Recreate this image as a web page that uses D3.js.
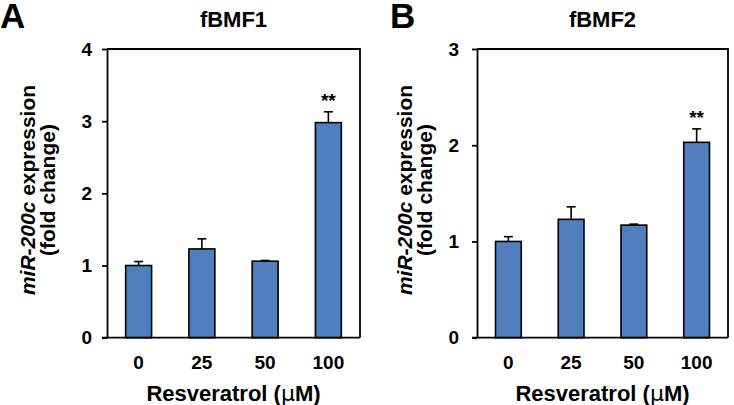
<!DOCTYPE html>
<html><head><meta charset="utf-8">
<script src="https://cdn.jsdelivr.net/npm/d3@7"></script>
<style>body{margin:0;background:#fff}svg{display:block}text{font-family:"Liberation Sans",Arial,sans-serif;font-weight:bold;fill:#000}</style>
</head><body>
<script>
const categories = ["0","25","50","100"];
const valuesA = [1.00, 1.23, 1.06, 2.98];
const errorsA = [0.055, 0.14, 0.01, 0.15];
const valuesB = [1.00, 1.23, 1.17, 2.03];
const errorsB = [0.05, 0.13, 0.01, 0.14];
const sigA = ["", "", "", "**"];
const sigB = ["", "", "", "**"];
const ticksA = [0,1,2,3,4];
const ticksB = [0,1,2,3];
const titles = ["fBMF1","fBMF2"];
const letters = ["A","B"];

const svg = d3.select("body").append("svg").attr("width",734).attr("height",405);
const color = "#4f7fbf";

function panel(cfg){
  const g = svg.append("g");
  const x = d3.scaleBand().domain(categories).range([cfg.x0,cfg.x1]).paddingInner(0.59).paddingOuter(0.295);
  const y = d3.scaleLinear().domain([0,cfg.ymax]).range([cfg.yb,cfg.yt]);
  g.append("path").attr("d",`M${cfg.x0},${cfg.yt}H${cfg.x1}V${cfg.yb}`).attr("fill","none").attr("stroke","#000").attr("stroke-width",1.8);
  g.selectAll("rect.bar").data(cfg.values).join("rect")
    .attr("x",(d,i)=>x(categories[i])).attr("width",x.bandwidth())
    .attr("y",d=>y(d)).attr("height",d=>cfg.yb-y(d))
    .attr("fill",color).attr("stroke","#000").attr("stroke-width",1.6);
  cfg.values.forEach((v,i)=>{
    const cx = x(categories[i])+x.bandwidth()/2;
    const top = y(v+cfg.errors[i]);
    g.append("line").attr("x1",cx).attr("x2",cx).attr("y1",y(v)).attr("y2",top).attr("stroke","#000").attr("stroke-width",1.6);
    g.append("line").attr("x1",cx-4.5).attr("x2",cx+4.5).attr("y1",top).attr("y2",top).attr("stroke","#000").attr("stroke-width",1.6);
    if(cfg.sig[i]) g.append("text").attr("x",cx).attr("y",top-5).attr("text-anchor","middle").style("font-size","19px").text(cfg.sig[i]);
  });
  const ya = g.append("g").attr("transform",`translate(${cfg.x0},0)`)
    .call(d3.axisLeft(y).tickValues(cfg.ticks).tickFormat(d3.format("d")).tickSize(5).tickPadding(cfg.tpad).tickSizeOuter(0));
  ya.select(".domain").attr("stroke-width",1.8);
  ya.selectAll(".tick line").attr("stroke-width",1.8);
  ya.selectAll("text").style("font-size","19px").style("font-family","Liberation Sans, Arial, sans-serif").style("font-weight","bold");
  g.append("line").attr("x1",cfg.x0-5).attr("x2",cfg.x1).attr("y1",cfg.yb).attr("y2",cfg.yb).attr("stroke","#000").attr("stroke-width",1.8);
  g.selectAll("text.xl").data(categories).join("text").attr("class","xl")
    .attr("x",d=>x(d)+x.bandwidth()/2).attr("y",369).attr("text-anchor","middle").style("font-size","19px").text(d=>d);
  const xt = g.append("text").attr("x",(cfg.x0+cfg.x1)/2).attr("y",401).attr("text-anchor","middle").style("font-size","22px");
  xt.append("tspan").text("Resveratrol (");
  xt.append("tspan").style("font-family","DejaVu Sans, sans-serif").style("font-weight","normal").text("μ");
  xt.append("tspan").text("M)");
  g.append("text").attr("x",(cfg.x0+cfg.x1)/2).attr("y",27).attr("text-anchor","middle").style("font-size","22px").text(cfg.title);
  g.append("text").attr("x",cfg.lx).attr("y",28).style("font-size","35px").text(cfg.letter);
  const cy = 190;
  const t1 = g.append("text").attr("transform",`translate(${cfg.yl1},${cy}) rotate(-90)`).attr("text-anchor","middle").style("font-size","21px");
  t1.append("tspan").style("font-style","italic").text("miR-200c");
  t1.append("tspan").text(" expression");
  g.append("text").attr("transform",`translate(${cfg.yl2},${cy}) rotate(-90)`).attr("text-anchor","middle").style("font-size","21px").text("(fold change)");
}

panel({x0:107,x1:360,yb:337.7,yt:49,ymax:4,values:valuesA,errors:errorsA,sig:sigA,ticks:ticksA,tpad:10,title:titles[0],letter:letters[0],lx:0,yl1:35,yl2:55});
panel({x0:477,x1:728,yb:337.7,yt:49,ymax:3,values:valuesB,errors:errorsB,sig:sigB,ticks:ticksB,tpad:13,title:titles[1],letter:letters[1],lx:390,yl1:412,yl2:432});
</script>
</body></html>
